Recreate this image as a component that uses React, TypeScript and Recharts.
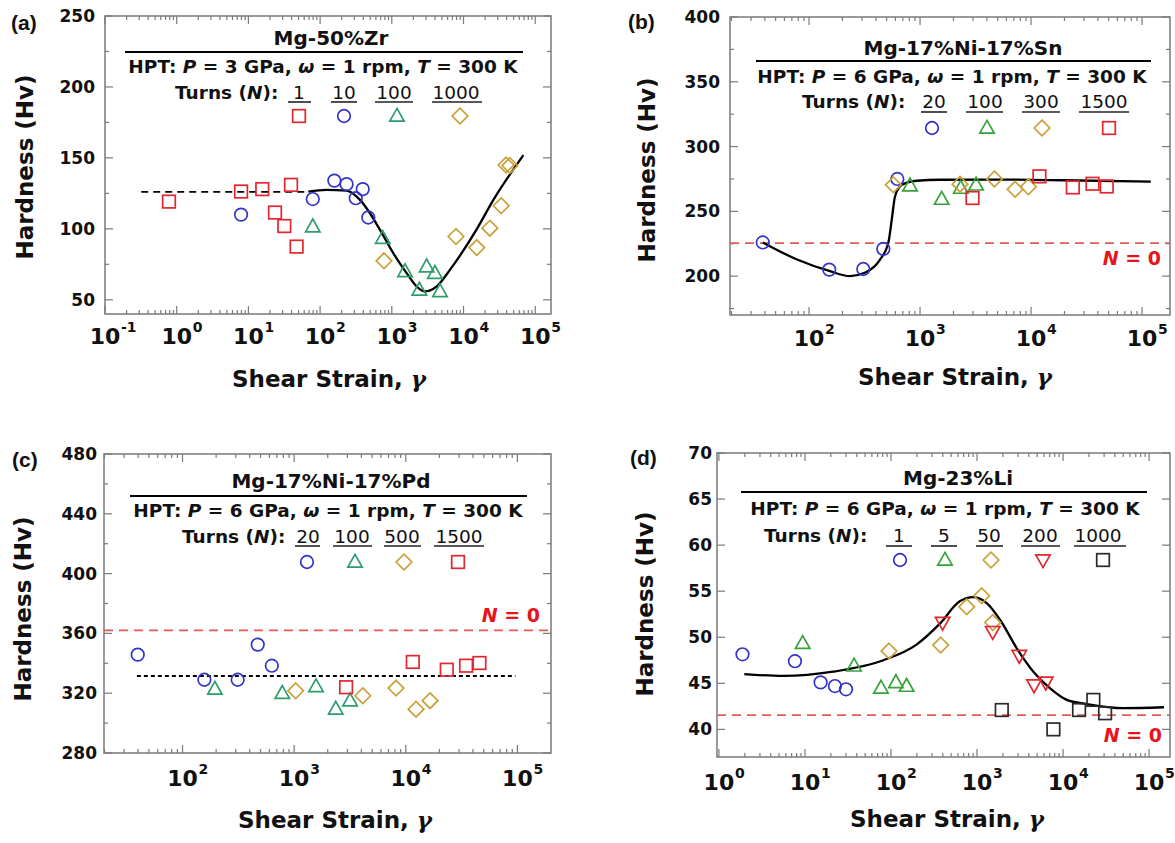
import React from 'react';
import { ComposedChart, Scatter, Line, XAxis, YAxis, ReferenceLine, ReferenceArea } from 'recharts';

type Pt = { x: number; y: number };

const FONT = '"DejaVu Sans", "Liberation Sans", Arial, sans-serif';
const ARIAL = 'Arial, "Liberation Sans", Helvetica, sans-serif';
const AX = '#7a7a7a';
const INK = '#111111';

const RED = '#e3262d';
const BLUE = '#3434c8';
const TEAL = '#2c9d6c';
const GREEN = '#35a23a';
const GOLD = '#c9a139';
const DARK = '#2a2a2a';
const REFRED = '#e05a5a';
const N0RED = '#e8141b';

// ---------- Panel (a): Mg-50%Zr ----------
const aN1: Pt[] = [{ x: 0.78, y: 119.2 }, { x: 7.9, y: 126.3 }, { x: 15.6, y: 128 }, { x: 23.5, y: 111.5 }, { x: 31.7, y: 102 }, { x: 39.3, y: 131 }, { x: 47, y: 87.5 }];
const aN10: Pt[] = [{ x: 7.9, y: 110 }, { x: 79, y: 121 }, { x: 158, y: 134 }, { x: 234, y: 131.5 }, { x: 314, y: 121.6 }, { x: 393, y: 128 }, { x: 470, y: 108 }];
const aN100: Pt[] = [{ x: 79, y: 101.6 }, { x: 747, y: 93.4 }, { x: 1528, y: 70 }, { x: 2420, y: 57 }, { x: 3060, y: 73.4 }, { x: 3990, y: 68.8 }, { x: 4700, y: 55.9 }];
const aN1000: Pt[] = [{ x: 778, y: 77.5 }, { x: 7850, y: 94.6 }, { x: 15300, y: 86.8 }, { x: 23300, y: 100.5 }, { x: 33500, y: 116.3 }, { x: 39200, y: 145 }, { x: 44300, y: 144.6 }];
const aFit: Pt[] = [{ x: 68.5, y: 126.3 }, { x: 123, y: 127.5 }, { x: 234, y: 127 }, { x: 360, y: 120.4 }, { x: 496, y: 111 }, { x: 684, y: 99.3 }, { x: 1050, y: 82.8 }, { x: 1610, y: 68.8 }, { x: 2220, y: 59.4 }, { x: 2900, y: 55.9 }, { x: 4230, y: 59.4 }, { x: 6460, y: 71.1 }, { x: 15100, y: 99.3 }, { x: 26100, y: 120.4 }, { x: 68400, y: 152 }];
const aBase = { y: 126, x1: 0.32, x2: 60 };
const aTurns = ['1', '10', '100', '1000'];

// ---------- Panel (b): Mg-17%Ni-17%Sn ----------
const bN20: Pt[] = [{ x: 38.3, y: 226 }, { x: 152, y: 205 }, { x: 308, y: 205.5 }, { x: 467, y: 221 }, { x: 624, y: 275 }];
const bN100: Pt[] = [{ x: 813, y: 269.8 }, { x: 1567, y: 259.5 }, { x: 2330, y: 268 }, { x: 3200, y: 270.5 }];
const bN300: Pt[] = [{ x: 575, y: 270.5 }, { x: 2290, y: 271 }, { x: 4680, y: 275 }, { x: 7180, y: 267 }, { x: 9460, y: 269 }];
const bN1500: Pt[] = [{ x: 2970, y: 260.3 }, { x: 11900, y: 277 }, { x: 23800, y: 268.5 }, { x: 35800, y: 271.3 }, { x: 48100, y: 269.2 }];
const bFit: Pt[] = [{ x: 38.3, y: 226 }, { x: 78, y: 212.8 }, { x: 152, y: 204 }, { x: 234, y: 200 }, { x: 318, y: 202.6 }, { x: 436, y: 212.8 }, { x: 518, y: 225.7 }, { x: 556, y: 243.6 }, { x: 595, y: 261.5 }, { x: 685, y: 270.5 }, { x: 935, y: 273.6 }, { x: 1510, y: 274.4 }, { x: 5000, y: 274.5 }, { x: 20000, y: 274 }, { x: 120000, y: 273 }];
const bN0 = 225.5;
const bTurns = ['20', '100', '300', '1500'];

// ---------- Panel (c): Mg-17%Ni-17%Pd ----------
const cN20: Pt[] = [{ x: 39.7, y: 345.8 }, { x: 157, y: 329 }, { x: 312, y: 329 }, { x: 472, y: 352.5 }, { x: 631, y: 338.4 }];
const cN100: Pt[] = [{ x: 195, y: 322.8 }, { x: 783, y: 320 }, { x: 1570, y: 324.5 }, { x: 2360, y: 309.5 }, { x: 3170, y: 315 }];
const cN500: Pt[] = [{ x: 1032, y: 321.6 }, { x: 4120, y: 318.3 }, { x: 8180, y: 323.4 }, { x: 12360, y: 309.3 }, { x: 16500, y: 315 }];
const cN1500: Pt[] = [{ x: 2920, y: 324 }, { x: 11560, y: 340.9 }, { x: 23300, y: 335.7 }, { x: 34700, y: 338.4 }, { x: 45700, y: 340.2 }];
const cN0 = 362;
const cMean = { y: 331.5, x1: 39, x2: 96000 };
const cTurns = ['20', '100', '500', '1500'];

// ---------- Panel (d): Mg-23%Li ----------
const dN1: Pt[] = [{ x: 1.88, y: 48.15 }, { x: 7.65, y: 47.4 }, { x: 15.2, y: 45.1 }, { x: 22.3, y: 44.7 }, { x: 30, y: 44.35 }];
const dN5: Pt[] = [{ x: 9.4, y: 49.35 }, { x: 37.2, y: 46.9 }, { x: 76.5, y: 44.5 }, { x: 114, y: 45.1 }, { x: 152, y: 44.7 }];
const dN50: Pt[] = [{ x: 94.8, y: 48.5 }, { x: 378, y: 49.15 }, { x: 759, y: 53.3 }, { x: 1134, y: 54.5 }, { x: 1523, y: 51.6 }];
const dN200: Pt[] = [{ x: 398, y: 51.6 }, { x: 1523, y: 50.6 }, { x: 3100, y: 48 }, { x: 4600, y: 44.8 }, { x: 6300, y: 45.1 }];
const dN1000: Pt[] = [{ x: 1940, y: 42.1 }, { x: 7720, y: 40 }, { x: 15350, y: 42.1 }, { x: 22500, y: 43.2 }, { x: 30800, y: 41.75 }];
const dFit: Pt[] = [{ x: 1.97, y: 46.0 }, { x: 5.6, y: 45.8 }, { x: 21.3, y: 46.26 }, { x: 81.5, y: 47.5 }, { x: 198, y: 49.2 }, { x: 372, y: 51.5 }, { x: 630, y: 53.9 }, { x: 906, y: 54.35 }, { x: 1297, y: 53.7 }, { x: 1850, y: 51.9 }, { x: 2900, y: 48.8 }, { x: 4520, y: 46.26 }, { x: 7080, y: 44.45 }, { x: 11050, y: 43.2 }, { x: 18900, y: 42.75 }, { x: 50000, y: 42.3 }, { x: 149000, y: 42.4 }];
const dN0 = 41.55;
const dTurns = ['1', '5', '50', '200', '1000'];

// ---------- Tick values ----------
const minorTicks = (lo: number, hi: number) => {
  const out: number[] = [];
  for (let e = -2; e <= 6; e++) {
    for (let m = 2; m <= 9; m++) {
      const v = m * Math.pow(10, e);
      if (v > lo && v < hi) out.push(v);
    }
  }
  return out;
};
const aXDomain: [number, number] = [0.1, 166000];
const bXDomain: [number, number] = [19.4, 178600];
const cXDomain: [number, number] = [19.8, 200000];
const dXDomain: [number, number] = [0.95, 175000];
const aXMajor = [0.1, 1, 10, 100, 1000, 10000, 100000];
const bXMajor = [100, 1000, 10000, 100000];
const cXMajor = [100, 1000, 10000, 100000];
const dXMajor = [1, 10, 100, 1000, 10000, 100000];
const aYMajor = [50, 100, 150, 200, 250];
const aYMinor = [75, 125, 175, 225];
const bYMajor = [200, 250, 300, 350, 400];
const bYMinor = [175, 225, 275, 325, 375];
const cYMajor = [280, 320, 360, 400, 440, 480];
const cYMinor = [300, 340, 380, 420, 460];
const dYMajor = [40, 45, 50, 55, 60, 65, 70];
const dYMinor: number[] = [];

// ---------- Markers ----------
const Marker = ({ cx, cy, kind, color }: { cx: number; cy: number; kind: string; color: string }) => {
  if (cx == null || cy == null || isNaN(cx) || isNaN(cy)) return <g />;
  const c = { fill: 'none', stroke: color, strokeWidth: 1.7 };
  if (kind === 'square') return <rect x={cx - 6.3} y={cy - 6.3} width={12.6} height={12.6} {...c} />;
  if (kind === 'circle') return <circle cx={cx} cy={cy} r={6.3} {...c} />;
  if (kind === 'diamond') return <polygon points={`${cx},${cy - 7.8} ${cx + 7.8},${cy} ${cx},${cy + 7.8} ${cx - 7.8},${cy}`} {...c} />;
  if (kind === 'triangle') return <polygon points={`${cx},${cy - 7.6} ${cx + 7.2},${cy + 5.2} ${cx - 7.2},${cy + 5.2}`} {...c} />;
  return <polygon points={`${cx},${cy + 7.6} ${cx + 7.2},${cy - 5.2} ${cx - 7.2},${cy - 5.2}`} {...c} />;
};

const PowTick = (props: any) => {
  const { x, y, payload, dy } = props;
  const v = payload ? payload.value : 1;
  const e = Math.round(Math.log10(v));
  return (
    <g>
      <text x={x} y={y + dy} textAnchor="middle" fontFamily={FONT} fontWeight={700} fontSize={22} fill={INK}>10</text>
      <text x={x + 16} y={y + dy - 12} textAnchor="start" fontFamily={FONT} fontWeight={700} fontSize={14} fill={INK}>{String(e)}</text>
    </g>
  );
};

// inward tick marks drawn at both ends of a full-height / full-width reference line
const vTickShape = (len: number) => (p: any) => {
  const x = p.x1;
  const t = Math.min(p.y1, p.y2);
  const b = Math.max(p.y1, p.y2);
  return (
    <g>
      <line x1={x} x2={x} y1={t} y2={t + len} stroke={AX} strokeWidth={1.2} />
      <line x1={x} x2={x} y1={b} y2={b - len} stroke={AX} strokeWidth={1.2} />
    </g>
  );
};
const hTickShape = (len: number) => (p: any) => {
  const y = p.y1;
  const l = Math.min(p.x1, p.x2);
  const r = Math.max(p.x1, p.x2);
  return (
    <g>
      <line x1={l} x2={l + len} y1={y} y2={y} stroke={AX} strokeWidth={1.2} />
      <line x1={r} x2={r - len} y1={y} y2={y} stroke={AX} strokeWidth={1.2} />
    </g>
  );
};

type Series = { data: Pt[]; kind: string; color: string; name: string };
type HLine = { y: number; x1?: number; x2?: number; color: string; dash: string; width: number };
type PanelCfg = {
  left: number; top: number; width: number; height: number;
  margin: { top: number; right: number; bottom: number; left: number };
  xDomain: [number, number]; yDomain: [number, number];
  xMajor: number[]; xMinor: number[]; yMajor: number[]; yMinor: number[];
  yTickMargin: number; labelDy: number;
  series: Series[]; fit?: Pt[]; hlines: HLine[];
};

const Panel = ({ cfg }: { cfg: PanelCfg }) => {
  const ax = { xAxisId: 'main', yAxisId: 'main', ifOverflow: 'visible' as const };
  return (
    <div style={{ position: 'absolute', left: cfg.left, top: cfg.top }}>
      <ComposedChart width={cfg.width} height={cfg.height} margin={cfg.margin}>
        <XAxis xAxisId="main" dataKey="x" type="number" scale="log" domain={cfg.xDomain} allowDataOverflow interval={0}
          ticks={cfg.xMajor} height={40} tickLine={false} tickSize={0} tickMargin={0} axisLine={false}
          tick={(p: any) => <PowTick {...p} dy={cfg.labelDy} />} />
        <YAxis yAxisId="main" dataKey="y" type="number" domain={cfg.yDomain} allowDataOverflow interval={0}
          ticks={cfg.yMajor} width={45} tickLine={false} tickSize={0} tickMargin={cfg.yTickMargin} axisLine={false}
          tick={{ fill: INK, fontSize: 17, fontWeight: 700, fontFamily: FONT }} />
        <ReferenceArea {...ax} x1={cfg.xDomain[0]} x2={cfg.xDomain[1]} y1={cfg.yDomain[0]} y2={cfg.yDomain[1]} fill="none" fillOpacity={0} stroke={AX} strokeWidth={1.5} />
        {cfg.xMajor.map((v) => <ReferenceLine key={'xM' + v} {...ax} x={v} shape={vTickShape(8)} />)}
        {cfg.xMinor.map((v) => <ReferenceLine key={'xm' + v} {...ax} x={v} shape={vTickShape(4)} />)}
        {cfg.yMajor.map((v) => <ReferenceLine key={'yM' + v} {...ax} y={v} shape={hTickShape(8)} />)}
        {cfg.yMinor.map((v) => <ReferenceLine key={'ym' + v} {...ax} y={v} shape={hTickShape(4)} />)}
        {cfg.hlines.map((h, i) =>
          h.x1 != null && h.x2 != null ? (
            <ReferenceLine key={'h' + i} xAxisId="main" yAxisId="main" segment={[{ x: h.x1, y: h.y }, { x: h.x2, y: h.y }]} stroke={h.color} strokeDasharray={h.dash} strokeWidth={h.width} />
          ) : (
            <ReferenceLine key={'h' + i} xAxisId="main" yAxisId="main" y={h.y} stroke={h.color} strokeDasharray={h.dash} strokeWidth={h.width} />
          )
        )}
        {cfg.fit && <Line xAxisId="main" yAxisId="main" data={cfg.fit} dataKey="y" type="monotone" stroke="#000" strokeWidth={2.3} dot={false} activeDot={false} isAnimationActive={false} />}
        {cfg.series.map((s) => (
          <Scatter key={s.name} name={s.name} xAxisId="main" yAxisId="main" data={s.data} isAnimationActive={false}
            shape={(p: any) => <Marker cx={p.cx} cy={p.cy} kind={s.kind} color={s.color} />} />
        ))}
      </ComposedChart>
    </div>
  );
};

const panels: PanelCfg[] = [
  {
    left: 0, top: 0, width: 590, height: 420, margin: { top: 16, right: 39, bottom: 66, left: 60 },
    xDomain: aXDomain, yDomain: [40, 250], xMajor: aXMajor, xMinor: minorTicks(aXDomain[0], aXDomain[1]), yMajor: aYMajor, yMinor: aYMinor,
    yTickMargin: 10, labelDy: 30,
    series: [
      { name: 'a1', data: aN1, kind: 'square', color: RED },
      { name: 'a10', data: aN10, kind: 'circle', color: BLUE },
      { name: 'a100', data: aN100, kind: 'triangle', color: TEAL },
      { name: 'a1000', data: aN1000, kind: 'diamond', color: GOLD },
    ],
    fit: aFit,
    hlines: [{ y: aBase.y, x1: aBase.x1, x2: aBase.x2, color: '#000', dash: '7 5', width: 1.8 }],
  },
  {
    left: 590, top: 0, width: 585, height: 420, margin: { top: 17, right: 5, bottom: 65, left: 95 },
    xDomain: bXDomain, yDomain: [170, 400], xMajor: bXMajor, xMinor: minorTicks(bXDomain[0], bXDomain[1]), yMajor: bYMajor, yMinor: bYMinor,
    yTickMargin: 10, labelDy: 31,
    series: [
      { name: 'b20', data: bN20, kind: 'circle', color: BLUE },
      { name: 'b100', data: bN100, kind: 'triangle', color: GREEN },
      { name: 'b300', data: bN300, kind: 'diamond', color: GOLD },
      { name: 'b1500', data: bN1500, kind: 'square', color: RED },
    ],
    fit: bFit,
    hlines: [{ y: bN0, color: REFRED, dash: '9 6', width: 1.8 }],
  },
  {
    left: 0, top: 420, width: 590, height: 423, margin: { top: 34, right: 39, bottom: 50, left: 59 },
    xDomain: cXDomain, yDomain: [280, 480], xMajor: cXMajor, xMinor: minorTicks(cXDomain[0], cXDomain[1]), yMajor: cYMajor, yMinor: cYMinor,
    yTickMargin: 7, labelDy: 33,
    series: [
      { name: 'c20', data: cN20, kind: 'circle', color: BLUE },
      { name: 'c100', data: cN100, kind: 'triangle', color: TEAL },
      { name: 'c500', data: cN500, kind: 'diamond', color: GOLD },
      { name: 'c1500', data: cN1500, kind: 'square', color: RED },
    ],
    hlines: [
      { y: cN0, color: REFRED, dash: '9 6', width: 1.8 },
      { y: cMean.y, x1: cMean.x1, x2: cMean.x2, color: '#000', dash: '4 3', width: 2.2 },
    ],
  },
  {
    left: 590, top: 420, width: 585, height: 423, margin: { top: 33, right: 5, bottom: 46, left: 82 },
    xDomain: dXDomain, yDomain: [37, 70], xMajor: dXMajor, xMinor: minorTicks(dXDomain[0], dXDomain[1]), yMajor: dYMajor, yMinor: dYMinor,
    yTickMargin: 5, labelDy: 33,
    series: [
      { name: 'd1', data: dN1, kind: 'circle', color: BLUE },
      { name: 'd5', data: dN5, kind: 'triangle', color: GREEN },
      { name: 'd50', data: dN50, kind: 'diamond', color: GOLD },
      { name: 'd200', data: dN200, kind: 'invtri', color: RED },
      { name: 'd1000', data: dN1000, kind: 'square', color: DARK },
    ],
    fit: dFit,
    hlines: [{ y: dN0, color: REFRED, dash: '9 6', width: 1.8 }],
  },
];

// ---------- Annotations (in-plot headers) ----------
type Ann = {
  label: string; labelX: number; labelY: number;
  title: string; titleX: number; titleY: number;
  lineX1: number; lineX2: number; lineY: number;
  p: string; hptX: number; hptY: number;
  turnsX: number; turnsY: number; underY: number; symY: number;
  nums: string[]; numX: number[]; under: [number, number][];
  syms: { x: number; kind: string; color: string }[];
  n0?: { x: number; y: number };
  yTitle: { x: number; y: number }; xTitle: { x: number; y: number };
};

const anns: Ann[] = [
  {
    label: '(a)', labelX: 11, labelY: 30,
    title: 'Mg-50%Zr', titleX: 331, titleY: 45, lineX1: 125, lineX2: 523, lineY: 52,
    p: '3', hptX: 323, hptY: 73, turnsX: 175, turnsY: 99, underY: 102, symY: 116,
    nums: aTurns, numX: [299, 344, 394, 456], under: [[288, 311], [331, 357], [375, 413], [432, 482]],
    syms: [{ x: 299, kind: 'square', color: RED }, { x: 344, kind: 'circle', color: BLUE }, { x: 397, kind: 'triangle', color: TEAL }, { x: 460, kind: 'diamond', color: GOLD }],
    yTitle: { x: 25, y: 167 }, xTitle: { x: 329, y: 387 },
  },
  {
    label: '(b)', labelX: 628, labelY: 29,
    title: 'Mg-17%Ni-17%Sn', titleX: 963, titleY: 55, lineX1: 756, lineX2: 1151, lineY: 61,
    p: '6', hptX: 952, hptY: 83, turnsX: 802, turnsY: 108, underY: 112, symY: 128,
    nums: bTurns, numX: [934, 985, 1041, 1104], under: [[921, 947], [966, 1003], [1022, 1060], [1079, 1129]],
    syms: [{ x: 932, kind: 'circle', color: BLUE }, { x: 987, kind: 'triangle', color: GREEN }, { x: 1042, kind: 'diamond', color: GOLD }, { x: 1109, kind: 'square', color: RED }],
    n0: { x: 1161, y: 265 },
    yTitle: { x: 647, y: 170 }, xTitle: { x: 955, y: 385 },
  },
  {
    label: '(c)', labelX: 12, labelY: 467,
    title: 'Mg-17%Ni-17%Pd', titleX: 331, titleY: 488, lineX1: 130, lineX2: 527, lineY: 496,
    p: '6', hptX: 328, hptY: 517, turnsX: 182, turnsY: 543, underY: 546, symY: 562,
    nums: cTurns, numX: [308, 352, 402, 459], under: [[295, 320], [333, 372], [384, 421], [434, 484]],
    syms: [{ x: 307, kind: 'circle', color: BLUE }, { x: 355, kind: 'triangle', color: TEAL }, { x: 404, kind: 'diamond', color: GOLD }, { x: 458, kind: 'square', color: RED }],
    n0: { x: 540, y: 622 },
    yTitle: { x: 23, y: 609 }, xTitle: { x: 335, y: 828 },
  },
  {
    label: '(d)', labelX: 630, labelY: 465,
    title: 'Mg-23%Li', titleX: 958, titleY: 485, lineX1: 741, lineX2: 1147, lineY: 492,
    p: '6', hptX: 945, hptY: 515, turnsX: 764, turnsY: 542, underY: 546, symY: 560,
    nums: dTurns, numX: [899, 944, 989, 1040, 1098], under: [[886, 912], [931, 957], [976, 1003], [1021, 1060], [1074, 1126]],
    syms: [{ x: 900, kind: 'circle', color: BLUE }, { x: 945, kind: 'triangle', color: GREEN }, { x: 991, kind: 'diamond', color: GOLD }, { x: 1043, kind: 'invtri', color: RED }, { x: 1103, kind: 'square', color: DARK }],
    n0: { x: 1162, y: 742 },
    yTitle: { x: 645, y: 604 }, xTitle: { x: 947, y: 827 },
  },
];

const txt = { fontFamily: FONT, fontWeight: 700, fill: INK } as const;

const Overlay = () => (
  <svg width={1175} height={843} style={{ position: 'absolute', left: 0, top: 0, pointerEvents: 'none' }}>
    {anns.map((a, k) => (
      <g key={k}>
        <text x={a.labelX} y={a.labelY} fontFamily={ARIAL} fontWeight={700} fontSize={21} fill={INK}>{a.label}</text>
        <text x={a.titleX} y={a.titleY} textAnchor="middle" fontSize={20} {...txt}>{a.title}</text>
        <line x1={a.lineX1} x2={a.lineX2} y1={a.lineY} y2={a.lineY} stroke="#000" strokeWidth={2} />
        <text x={a.hptX} y={a.hptY} textAnchor="middle" fontSize={18.5} {...txt}>
          {'HPT: '}<tspan fontStyle="italic">P</tspan>{` = ${a.p} GPa, `}<tspan fontStyle="italic">ω</tspan>{' = 1 rpm, '}<tspan fontStyle="italic">T</tspan>{' = 300 K'}
        </text>
        <text x={a.turnsX} y={a.turnsY} fontSize={18.5} {...txt}>
          {'Turns ('}<tspan fontStyle="italic">N</tspan>{'):'}
        </text>
        {a.nums.map((n, i) => (
          <g key={i}>
            <text x={a.numX[i]} y={a.turnsY} textAnchor="middle" fontSize={18.5} fontFamily={FONT} fontWeight={400} fill={INK}>{n}</text>
            <line x1={a.under[i][0]} x2={a.under[i][1]} y1={a.underY} y2={a.underY} stroke="#222" strokeWidth={1.6} />
          </g>
        ))}
        {a.syms.map((s, i) => <Marker key={i} cx={s.x} cy={a.symY} kind={s.kind} color={s.color} />)}
        {a.n0 && (
          <text x={a.n0.x} y={a.n0.y} textAnchor="end" fontSize={19} fontFamily={FONT} fontWeight={700} fill={N0RED}>
            <tspan fontStyle="italic">N</tspan>{' = 0'}
          </text>
        )}
        <text x={a.yTitle.x} y={a.yTitle.y} transform={`rotate(-90 ${a.yTitle.x} ${a.yTitle.y})`} textAnchor="middle" dominantBaseline="central" fontSize={23} {...txt}>Hardness (Hv)</text>
        <text x={a.xTitle.x} y={a.xTitle.y} textAnchor="middle" fontSize={23} {...txt}>
          {'Shear Strain, '}<tspan fontStyle="italic" fontFamily="'DejaVu Serif', serif">γ</tspan>
        </text>
      </g>
    ))}
  </svg>
);

export default function App() {
  return (
    <div style={{ position: 'absolute', left: 0, top: 0, width: 1175, height: 843, background: '#fff', overflow: 'hidden' }}>
      {panels.map((c, i) => <Panel key={i} cfg={c} />)}
      <Overlay />
    </div>
  );
}
